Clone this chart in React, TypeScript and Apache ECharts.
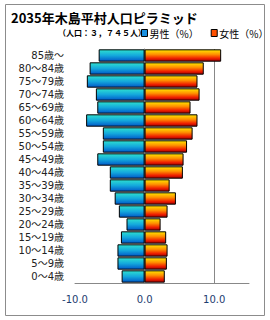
import React, { useEffect, useRef } from "react";
import * as echarts from "echarts";

const categories = [
  "0～4歳", "5～9歳", "10～14歳", "15～19歳", "20～24歳", "25～29歳",
  "30～34歳", "35～39歳", "40～44歳", "45～49歳", "50～54歳", "55～59歳",
  "60～64歳", "65～69歳", "70～74歳", "75～79歳", "80～84歳", "85歳～",
];
const maleValues = [3.3, 3.9, 3.9, 3.4, 2.6, 3.7, 4.3, 5.0, 5.0, 6.8, 6.0, 6.0, 8.4, 6.8, 7.0, 8.3, 7.9, 6.6];
const femaleValues = [2.9, 3.2, 3.3, 3.1, 2.3, 3.3, 4.5, 3.6, 5.5, 5.6, 6.1, 6.9, 7.6, 6.6, 7.9, 7.6, 8.5, 11.0];
const titleText = "2035年木島平村人口ピラミッド";
const subText = "（人口：３，７４５人）";
const maleName = "男性（%）";
const femaleName = "女性（%）";

const FONT = "'Noto Sans CJK JP', 'Noto Sans', sans-serif";

export default function App() {
  const ref = useRef<HTMLDivElement>(null);
  useEffect(() => {
    if (!ref.current) return;
    const chart = echarts.init(ref.current, null, { renderer: "svg" });
    const maleGrad = new echarts.graphic.LinearGradient(0, 0, 0, 1, [
      { offset: 0, color: "#2ee0d0" },
      { offset: 0.5, color: "#14a8dc" },
      { offset: 1, color: "#0058c8" },
    ]);
    const femaleGrad = new echarts.graphic.LinearGradient(0, 0, 0, 1, [
      { offset: 0, color: "#ffe600" },
      { offset: 0.4, color: "#ff9000" },
      { offset: 0.75, color: "#f02000" },
      { offset: 1, color: "#a00000" },
    ]);
    chart.setOption({
      animation: false,
      textStyle: { fontFamily: FONT },
      title: [
        {
          text: titleText,
          left: 6,
          top: 6,
          textStyle: { fontSize: 13, fontWeight: "bold", color: "#000", fontFamily: FONT },
        },
        {
          text: subText,
          left: 53,
          top: 23,
          textStyle: { fontSize: 8, fontWeight: "bold", color: "#000", fontFamily: FONT },
        },
      ],
      legend: {
        left: 141,
        top: 28,
        width: 129,
        orient: "horizontal",
        padding: 0,
        icon: "rect",
        itemWidth: 6,
        itemHeight: 7,
        itemGap: 12,
        textStyle: { fontSize: 10, color: "#000", padding: [0, 0, 0, -3] },
        data: [
          { name: maleName, itemStyle: { color: "#1890e0", borderColor: "#000", borderWidth: 1 } },
          { name: femaleName, itemStyle: { color: "#ff5000", borderColor: "#000", borderWidth: 1 } },
        ],
      },
      graphic: [
        {
          type: "rect",
          shape: { x: 5.5, y: 4.5, width: 259, height: 311 },
          style: { fill: "none", stroke: "#8c8c8c", lineWidth: 1 },
          silent: true,
        },
      ],
      grid: { left: 75, right: 21, top: 49, bottom: 37, containLabel: false },
      xAxis: {
        type: "value",
        min: -10,
        max: 15,
        interval: 10,
        axisLine: { show: true, lineStyle: { color: "#888", width: 1 } },
        axisTick: { show: false },
        axisLabel: {
          showMaxLabel: false,
          margin: 11,
          fontSize: 10,
          color: "#1c3c70",
          fontFamily: "'DejaVu Sans', sans-serif",
          formatter: (v: number) => (v === 15 ? "" : v.toFixed(1)),
        },
        splitLine: { show: true, showMinLine: false, showMaxLine: false, lineStyle: { color: "#888", width: 1 } },
      },
      yAxis: {
        type: "category",
        data: categories,
        axisLine: { show: true, lineStyle: { color: "#888", width: 1 } },
        axisTick: { show: false },
        axisLabel: {
          fontSize: 10,
          lineHeight: 11,
          color: "#222",
          margin: 11,
          fontFamily: "'DejaVu Sans', 'Noto Sans CJK JP', sans-serif",
        },
        splitLine: { show: false },
      },
      series: [
        {
          name: maleName,
          type: "bar",
          data: maleValues.map((v) => -v),
          barGap: "-100%",
          barCategoryGap: "5%",
          itemStyle: { color: maleGrad, borderColor: "#000", borderWidth: 1 },
        },
        {
          name: femaleName,
          type: "bar",
          data: femaleValues,
          barGap: "-100%",
          barCategoryGap: "5%",
          itemStyle: { color: femaleGrad, borderColor: "#000", borderWidth: 1 },
        },
      ],
    });
    return () => chart.dispose();
  }, []);
  return (
    <div
      ref={ref}
      style={{ position: "fixed", left: 0, top: 0, width: 270, height: 320, background: "#fff" }}
    />
  );
}
